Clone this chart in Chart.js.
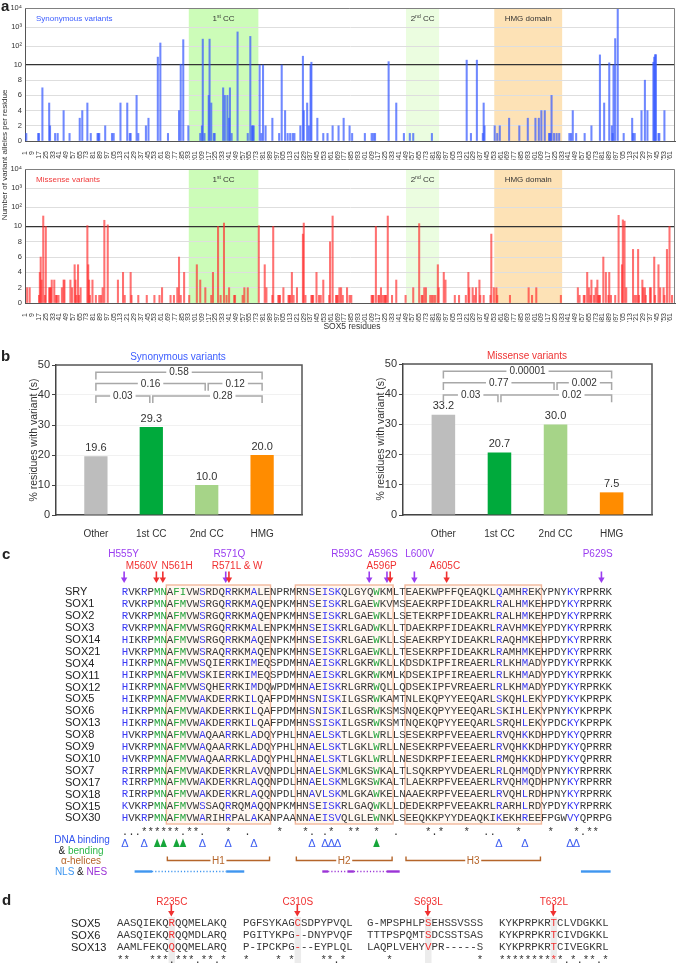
<!DOCTYPE html>
<html><head><meta charset="utf-8">
<script src="https://cdn.jsdelivr.net/npm/chart.js@4.4.1/dist/chart.umd.min.js"></script>
<style>
html,body{margin:0;padding:0;background:#fff;}
body{width:685px;height:966px;position:relative;overflow:hidden;font-family:"Liberation Sans",Arial,Helvetica,sans-serif;color:#222;}
canvas{position:absolute;}
.t{position:absolute;white-space:pre;line-height:1;}
.m{font-family:"Liberation Mono","Courier New",monospace;}
svg{position:absolute;left:0;top:0;}
</style></head><body>
<canvas id="synChart" width="685" height="160" style="left:0;top:0"></canvas>
<canvas id="misChart" width="685" height="162" style="left:0;top:160px"></canvas>
<canvas id="synPct" width="340" height="205" style="left:0;top:340px"></canvas>
<canvas id="misPct" width="345" height="205" style="left:340px;top:340px"></canvas>
<script>
// ---------------- DATA ----------------
const residueCount = 766;
const synonymousAlleles = [[2,1],[16,1],[17,1],[21,7],[29,5],[30,2],[36,1],[39,1],[46,4],[53,1],[65,3],[68,4],[74,5],[78,1],[86,1],[87,1],[88,1],[95,2],[103,1],[105,1],[113,5],[121,5],[124,1],[125,1],[132,6],[134,1],[143,2],[146,3],[157,26],[160,144],[169,1],[182,4],[184,11],[187,215],[193,2],[207,1],[209,2],[210,230],[212,1],[217,6],[218,230],[220,5],[223,1],[224,1],[234,7],[236,6],[239,6],[241,3],[242,7],[244,1],[251,550],[263,1],[266,320],[268,2],[269,2],[270,2],[277,10],[279,1],[281,10],[284,2],[292,3],[300,1],[303,10],[307,4],[310,1],[313,1],[316,1],[318,1],[325,2],[328,29],[329,4],[333,5],[335,2],[337,10],[338,14],[345,3],[352,1],[357,1],[363,2],[370,2],[376,3],[383,2],[386,1],[401,1],[409,1],[411,1],[413,1],[429,15],[438,5],[447,1],[454,1],[458,1],[480,1],[521,18],[526,1],[533,18],[540,1],[541,5],[542,2],[554,2],[557,1],[560,2],[571,3],[583,2],[593,3],[602,3],[606,3],[609,4],[613,4],[618,1],[619,1],[620,1],[621,6],[624,1],[627,1],[630,1],[642,1],[644,1],[646,4],[650,1],[660,1],[668,2],[678,34],[683,5],[689,13],[692,2],[693,1],[694,10],[696,245],[699,9500],[706,1],[716,3],[717,1],[719,1],[727,4],[731,8],[734,4],[741,14],[742,26],[743,35],[744,35],[747,1],[748,1],[754,4]];
const missenseAlleles = [[3,2],[6,2],[17,1],[18,4],[19,6],[20,3],[22,35],[24,1],[25,10],[29,2],[30,2],[31,2],[32,3],[35,3],[37,1],[38,1],[40,1],[44,2],[46,3],[47,3],[54,3],[56,2],[59,5],[60,3],[61,1],[63,5],[64,1],[66,2],[74,11],[75,5],[76,3],[77,1],[80,3],[84,1],[88,1],[90,1],[92,2],[94,21],[98,12],[110,3],[116,4],[118,1],[125,4],[126,1],[134,1],[144,1],[153,1],[159,1],[162,2],[172,1],[176,1],[180,2],[182,6],[184,1],[188,4],[194,1],[203,5],[207,3],[213,2],[220,1],[222,4],[228,10],[231,1],[235,15],[238,1],[241,2],[247,1],[248,1],[257,1],[259,2],[263,2],[276,11],[283,5],[285,2],[292,1],[293,10],[299,1],[300,1],[301,1],[305,2],[311,1],[312,1],[313,1],[315,4],[317,1],[321,2],[328,9],[329,15],[331,1],[338,1],[339,1],[340,1],[344,4],[347,1],[349,1],[352,3],[359,1],[360,8],[363,35],[367,1],[368,1],[369,1],[371,2],[373,2],[375,1],[380,2],[383,1],[385,1],[409,1],[410,1],[411,1],[414,10],[417,1],[418,1],[420,2],[422,1],[424,1],[425,1],[426,1],[428,35],[433,1],[438,3],[449,1],[458,2],[465,14],[468,1],[469,1],[471,2],[473,2],[478,1],[480,1],[482,1],[484,1],[487,5],[488,2],[494,4],[496,3],[507,1],[512,1],[520,1],[523,4],[524,2],[528,2],[530,1],[532,2],[536,3],[537,1],[541,1],[549,1],[550,9],[553,2],[556,2],[557,1],[572,1],[594,2],[598,1],[603,2],[632,1],[652,2],[654,1],[659,1],[660,1],[663,4],[665,2],[667,1],[668,3],[671,1],[673,2],[675,3],[676,1],[677,1],[678,1],[682,6],[685,4],[688,1],[689,4],[691,1],[696,1],[700,38],[704,5],[705,22],[707,19],[709,2],[717,7],[719,1],[721,1],[723,7],[724,1],[728,3],[729,2],[731,2],[732,1],[737,2],[738,2],[742,6],[743,1],[747,5],[749,2],[753,2],[754,1],[757,7],[760,10],[763,1]];
const domainNames = ['1st CC','2nd CC','HMG domain'];
const domainStart = [194,450,554];
const domainEnd = [275,488,633];
const yTickCounts = [0,2,4,6,8,10,100,1000,10000];
const yTickLabels = ['0','2','4','6','8','10','10²','10³','10⁴'];
const xTickEvery = 8;

const groupLabels = ['Other','1st CC','2nd CC','HMG'];
const synPercent = [19.6,29.3,10.0,20.0];
const misPercent = [33.2,20.7,30.0,7.5];
const bracketFrom = [1,1,3,1,2];
const bracketTo   = [4,3,4,2,4];
const bracketLevel= [0,1,1,2,2];
const synPvalues = ['0.58','0.16','0.12','0.03','0.28'];
const misPvalues = ['0.00001','0.77','0.002','0.03','0.02'];

const seqNames = ['SRY','SOX1','SOX2','SOX3','SOX14','SOX21','SOX4','SOX11','SOX12','SOX5','SOX6','SOX13','SOX8','SOX9','SOX10','SOX7','SOX17','SOX18','SOX15','SOX30'];
const seqRows = [
'RVKRPMNAFIVWSRDQRRKMALENPRMRNSEISKQLGYQWKMLTEAEKWPFFQEAQKLQAMHREKYPNYKYRPRRK',
'RVKRPMNAFMVWSRGQRRKMAQENPKMHNSEISKRLGAEWKVMSEAEKRPFIDEAKRLRALHMKEHPDYKYRPRRK',
'RVKRPMNAFMVWSRGQRRKMAQENPKMHNSEISKRLGAEWKLLSETEKRPFIDEAKRLRALHMKEHPDYKYRPRRK',
'RVKRPMNAFMVWSRGQRRKMALENPKMHNSEISKRLGADWKLLTDAEKRPFIDEAKRLRAVHMKEYPDYKYRPRRK',
'HIKRPMNAFMVWSRGQRRKMAQENPKMHNSEISKRLGAEWKLLSEAEKRPYIDEAKRLRAQHMKEHPDYKYRPRRK',
'HVKRPMNAFMVWSRAQRRKMAQENPKMHNSEISKRLGAEWKLLTESEKRPFIDEAKRLRAMHMKEHPDYKYRPRRK',
'HIKRPMNAFMVWSQIERRKIMEQSPDMHNAEISKRLGKRWKLLKDSDKIPFIREAERLRLKHMADYPDYKYRPRKK',
'HIKRPMNAFMVWSKIERRKIMEQSPDMHNAEISKRLGKRWKMLKDSEKIPFIREAERLRLKHMADYPDYKYRPRKK',
'HIKRPMNAFMVWSQHERRKIMDQWPDMHNAEISKRLGRRWQLLQDSEKIPFVREAERLRLKHMADYPDYKYRPRKK',
'HIKRPMNAFMVWAKDERRKILQAFPDMHNSNISKILGSRWKAMTNLEKQPYYEEQARLSKQHLEKYPDYKYKPRPK',
'HIKRPMNAFMVWAKDERRKILQAFPDMHNSNISKILGSRWKSMSNQEKQPYYEEQARLSKIHLEKYPNYKYKPRPK',
'HIKRPMNAFMVWAKDERRKILQAFPDMHNSSISKILGSRWKSMTNQEKQPYYEEQARLSRQHLEKYPDCKYKPRPK',
'HVKRPMNAFMVWAQAARRKLADQYPHLHNAELSKTLGKLWRLLSESEKRPFVEEAERLRVQHKKDHPDYKYQPRRR',
'HVKRPMNAFMVWAQAARRKLADQYPHLHNAELSKTLGKLWRLLNESEKRPFVEEAERLRVQHKKDHPDYKYQPRRR',
'HVKRPMNAFMVWAQAARRKLADQYPHLHNAELSKTLGKLWRLLNESDKRPFIEEAERLRMQHKKDHPDYKYQPRRR',
'RIRRPMNAFMVWAKDERKRLAVQNPDLHNAELSKMLGKSWKALTLSQKRPYVDEAERLRLQHMQDYPNYKYRPRRK',
'RIRRPMNAFMVWAKDERKRLAQQNPDLHNAELSKMLGKSWKALTLAEKRPFVEEAERLRVQHMQDHPNYKYRPRRR',
'RIRRPMNAFMVWAKDERKRLAQQNPDLHNAVLSKMLGKAWKELNAAEKRPFVEEAERLRVQHLRDHPNYKYRPRRK',
'KVKRPMNAFMVWSSAQRRQMAQQNPKMHNSEISKRLGAQWKLLDEDEKRPFVEEAKRLRARHLRDYPDYKYRPRRK',
'HVKRPMNAFMVWARIHRPALAKANPAANNAEISVQLGLEWNKLSEEQKKPYYDEAQKIKEKHREEFPGWVYQPRPG'];
const seqConservation = '...******.**.   *  .    *   *. .*  **  *  .    *.*   *  ..   *    *   *.**  ';
const dnaBindingCols = [0,3,12,16,20,29,31,32,33,58,62,69,70];
const bendingCols = [5,6,8,9,39];
const helixNames = ['H1','H2','H3'];
const helixStartCol = [7,27,44];
const helixEndCol = [22,41,64];
const mutNames = ['H555Y','R571Q','R593C','A596S','L600V','P629S','M560V','N561H','R571L & W','A596P','A605C'];
const mutCol   = [0,16,38,41,45,74,5,6,16,41,50];
const mutType  = ['syn','syn','syn','syn','syn','syn','mis','mis','mis','mis','mis'];

const dBlocks = [
 ['AASQIEKQRQQMELAKQ','AASQIEKQRQQMDLARQ','AAMLFEKQQQQMELARQ'],
 ['PGFSYKAGCSDPYPVQL','PGITYKPG--DNYPVQF','P-IPCKPG---EYPLQL'],
 ['G-MPSPHLPSEHSSVSSS','TTTPSPQMTSDCSSTSAS','LAQPLVEHYVPR-----S'],
 ['KYKPRPKRTCLVDGKKL','KYKPRPKRTCIVDGKKL','KYKPRPKRTCIVEGKRL']];
const dConservation = ['**   ***.***.**.*','*    * *    **.* ','   *             *','**********.*.**.*'];
const dNames = ['SOX5','SOX6','SOX13'];
const dMutNames = ['R235C','C310S','S693L','T632L'];
const dMutCol = [8,8,9,8];

// ---------------- STYLE / LAYOUT ----------------
const BLUE='#3a3af5', GREEN='#22a33a', RED='#f03030', PURPLE='#9a3cf0', BROWN='#b5652a', NLSC='#3f96f0', NESC='#9b34d6';
const domainColors = ['#ccfcb8','#ebfde0','#fde2b6'];
const toAxis = v => v <= 10 ? v : 10 + 2.5*Math.log10(v/10);
Chart.defaults.font.family = '"Liberation Sans", Arial, sans-serif';
Chart.defaults.color = '#333';

function drawSupLabel(ctx, text, cx, cy){
  const m = text.match(/^(\d+)(st|nd|rd|th) (.*)$/);
  ctx.fillStyle='#333'; ctx.textBaseline='middle';
  if(!m){ ctx.font='8px "Liberation Sans", Arial'; ctx.textAlign='center'; ctx.fillText(text,cx,cy); return; }
  ctx.textAlign='left';
  ctx.font='8px "Liberation Sans", Arial'; const w1=ctx.measureText(m[1]).width, w3=ctx.measureText(' '+m[3]).width;
  ctx.font='5px "Liberation Sans", Arial'; const w2=ctx.measureText(m[2]).width;
  let x=cx-(w1+w2+w3)/2;
  ctx.font='8px "Liberation Sans", Arial'; ctx.fillText(m[1],x,cy); x+=w1;
  ctx.font='5px "Liberation Sans", Arial'; ctx.fillText(m[2],x,cy-2.5); x+=w2;
  ctx.font='8px "Liberation Sans", Arial'; ctx.fillText(' '+m[3],x,cy);
}

const domainPlugin = {
  id:'domains',
  beforeDraw(chart, args, opts){
    const {ctx, chartArea:a, scales:{x}} = chart;
    const slot = x.getPixelForValue(1)-x.getPixelForValue(0);
    ctx.save();
    domainStart.forEach((s,i)=>{
      const l = x.getPixelForValue(s-1)-slot/2, r = x.getPixelForValue(domainEnd[i]-1)+slot/2;
      ctx.fillStyle = domainColors[i]; ctx.fillRect(l,a.top,r-l,a.bottom-a.top);
      drawSupLabel(ctx, domainNames[i], (l+r)/2, a.top+11);
    });
    ctx.font='8px "Liberation Sans", Arial'; ctx.fillStyle=opts.color; ctx.textAlign='left'; ctx.textBaseline='middle';
    ctx.fillText(opts.title, a.left+11, a.top+10.5);
    ctx.restore();
  },
  afterDraw(chart){
    const {ctx, chartArea:a} = chart;
    ctx.save(); ctx.strokeStyle='#808080'; ctx.lineWidth=1;
    ctx.beginPath(); ctx.moveTo(a.left,a.top+0.5); ctx.lineTo(a.right-0.5,a.top+0.5); ctx.lineTo(a.right-0.5,a.bottom); ctx.stroke();
    ctx.restore();
  }
};

function makeVariantChart(id, alleles, color, title, titleColor, topPad){
  const labels=[]; for(let r=1;r<=residueCount;r++) labels.push(String(r));
  const values=new Array(residueCount).fill(null);
  alleles.forEach(([r,c])=>{ values[r-1]=toAxis(c); });
  const tickPos = yTickCounts.map(toAxis);
  new Chart(document.getElementById(id), {
    type:'bar',
    data:{labels, datasets:[{data:values, backgroundColor:color, barThickness:1.4}]},
    options:{
      animation:false, responsive:false, devicePixelRatio:1,
      layout:{padding:{top:topPad,right:3,left:0,bottom:0}},
      plugins:{legend:{display:false}, tooltip:{enabled:false}, domains:{title, color:titleColor}},
      scales:{
        x:{type:'category', offset:true, grid:{display:false}, border:{color:'#555'},
           ticks:{autoSkip:false, minRotation:90, maxRotation:90, padding:2, font:{size:7}, color:'#333',
             callback:function(v,i){ return (i%xTickEvery===0)? this.getLabelForValue(v) : ''; }},
           afterFit:s=>{s.height=19;}},
        y:{min:0, max:17.5,
           afterBuildTicks:s=>{s.ticks=tickPos.map(v=>({value:v}));},
           ticks:{callback:(v,i)=>yTickLabels[i], font:{size:7.5}, color:'#333', padding:3},
           grid:{drawTicks:false, color:c=>(c.tick&&c.tick.value===10)?'#333':'#dedede', lineWidth:c=>(c.tick&&c.tick.value===10)?1.2:1},
           border:{color:'#555'},
           afterFit:s=>{s.width=25;}}
      }
    },
    plugins:[domainPlugin]
  });
}
makeVariantChart('synChart', synonymousAlleles, 'rgba(55,90,255,0.72)', 'Synonymous variants', '#3b5cff', 8);
makeVariantChart('misChart', missenseAlleles, 'rgba(255,45,45,0.68)', 'Missense variants', '#f03a3a', 9);

// ----- panel b -----
const pctPlugin = {
  id:'pct',
  afterDatasetsDraw(chart, args, opts){
    const {ctx, scales:{x,y}} = chart;
    ctx.save();
    const meta = chart.getDatasetMeta(0);
    ctx.font='11px "Liberation Sans", Arial'; ctx.fillStyle='#333'; ctx.textAlign='center'; ctx.textBaseline='bottom';
    meta.data.forEach((el,i)=>{ ctx.fillText(opts.values[i].toFixed(1), el.x, el.y-3); });
    const levelY=[47.6,43.8,39.7], leg=2.4;
    ctx.strokeStyle='#a8a8a8'; ctx.lineWidth=1.5;
    bracketFrom.forEach((f,i)=>{
      const t=bracketTo[i], lv=bracketLevel[i];
      const shared = (k)=> bracketFrom.some((ff,j)=>j!==i && bracketLevel[j]===lv && (bracketTo[j]===k||ff===k));
      let x1=x.getPixelForValue(f), x2=x.getPixelForValue(t);
      if(shared(f)) x1+=1.5; if(shared(t)) x2-=1.5;
      const yy=y.getPixelForValue(levelY[lv]), yb=y.getPixelForValue(levelY[lv]-leg);
      ctx.beginPath(); ctx.moveTo(x1,yb); ctx.lineTo(x1,yy); ctx.lineTo(x2,yy); ctx.lineTo(x2,yb); ctx.stroke();
      const frac = (t-f===2 && f===2)?0.64:0.5;
      const lx = x1+(x2-x1)*frac;
      ctx.font='10px "Liberation Sans", Arial';
      const w=ctx.measureText(opts.pvals[i]).width+6;
      ctx.fillStyle='#fff'; ctx.fillRect(lx-w/2,yy-3,w,6);
      ctx.fillStyle='#333'; ctx.textBaseline='middle'; ctx.fillText(opts.pvals[i],lx,yy+0.5);
    });
    ctx.restore();
  },
  afterDraw(chart){
    const {ctx, chartArea:a} = chart;
    ctx.save(); ctx.strokeStyle='#555'; ctx.lineWidth=1.5;
    ctx.beginPath(); ctx.moveTo(a.left,a.top); ctx.lineTo(a.right,a.top); ctx.lineTo(a.right,a.bottom); ctx.stroke();
    ctx.restore();
  }
};
function makePctChart(id, values, pvals, pad, yWidth){
  new Chart(document.getElementById(id), {
    type:'bar',
    data:{datasets:[{data:values.map((v,i)=>({x:i+1,y:v})), backgroundColor:['#bdbdbd','#00aa3c','#a6d488','#ff8c00'], barPercentage:0.42, categoryPercentage:1}]},
    options:{
      animation:false, responsive:false, devicePixelRatio:1,
      layout:{padding:pad},
      plugins:{legend:{display:false}, tooltip:{enabled:false}, pct:{values, pvals}},
      scales:{
        x:{type:'linear', offset:false, min:0.28, max:4.72, afterBuildTicks:s=>{s.ticks=[1,2,3,4].map(v=>({value:v}));},
           ticks:{callback:v=>groupLabels[v-1], font:{size:10}, color:'#333', padding:5},
           grid:{display:false}, border:{color:'#444', width:1.5}, afterFit:s=>{s.height=30;}},
        y:{min:0, max:50, ticks:{stepSize:10, font:{size:11}, color:'#333', padding:2},
           grid:{color:'#f1f1f1', tickColor:'#444', tickLength:4}, border:{color:'#444', width:1.5},
           afterFit:s=>{s.width=yWidth;}}
      }
    },
    plugins:[pctPlugin]
  });
}
makePctChart('synPct', synPercent, synPvalues, {top:25,right:38,left:0,bottom:0}, 56);
makePctChart('misPct', misPercent, misPvalues, {top:24,right:33,left:0,bottom:0}, 63);

// ---------------- HTML TEXT / SVG ----------------
const NS='http://www.w3.org/2000/svg';
const svg=document.createElementNS(NS,'svg'); svg.setAttribute('width',685); svg.setAttribute('height',966);
document.body.appendChild(svg);
function S(tag, at){ const e=document.createElementNS(NS,tag); for(const k in at) e.setAttribute(k,at[k]); svg.appendChild(e); return e; }
function T(html, x, yc, o={}){
  const d=document.createElement('div'); d.className='t'+(o.mono?' m':'');
  d.innerHTML=html; const sz=o.size||10;
  d.style.fontSize=sz+'px'; d.style.color=o.color||'#222';
  if(o.bold) d.style.fontWeight='bold';
  d.style.left=x+'px';
  if(o.rot){ d.style.top=yc+'px'; d.style.transform='translate(-50%,-50%) rotate(-90deg)'; }
  else { d.style.top=(yc-(o.mono?0.44:0.5)*sz)+'px';
    if(o.align==='center') d.style.transform='translateX(-50%)';
    if(o.align==='right') d.style.transform='translateX(-100%)'; }
  document.body.appendChild(d); return d;
}
function arrow(x,y1,y2,c){
  S('line',{x1:x,y1:y1,x2:x,y2:y2-4,stroke:c,'stroke-width':1.6});
  S('polygon',{points:`${x-3.2},${y2-5.5} ${x+3.2},${y2-5.5} ${x},${y2}`,fill:c});
}

// panel letters & a/b titles
T('a',1,5,{size:15,bold:true});
T('b',1,355,{size:15,bold:true});
T('c',2,553,{size:15,bold:true});
T('d',2,899,{size:15,bold:true});
T('Number of variant alleles per residue',5,155,{size:8,rot:true,color:'#333'});
T('SOX5 residues',352,326,{size:8.5,align:'center',color:'#333'});
T('Synonymous variants',178,357,{size:10,align:'center',color:'#3b5cff'});
T('Missense variants',527,356,{size:10,align:'center',color:'#ee3333'});
T('% residues with variant (s)',33,440,{size:10.5,rot:true,color:'#333'});
T('% residues with variant (s)',380,439,{size:10.5,rot:true,color:'#333'});

// ----- panel c -----
const x0=121.7, cw=6.45, y0=591.8, rh=11.9;
const colL=c=>x0+c*cw, colC=c=>x0+(c+0.5)*cw;
const boxTop=585, boxBot=824;
helixStartCol.forEach((s,i)=>{
  S('rect',{x:colL(s)-0.5,y:boxTop,width:colL(helixEndCol[i]+1)-colL(s)+1,height:boxBot-boxTop,fill:'#fff7f0',stroke:'#f2b89c','stroke-width':1.4});
});
function seqHTML(seq, blue, green, redCols, redColor){
  return seq.split('').map((ch,i)=>{
    if(redCols && redCols.includes(i)) return `<span style="color:${redColor}">${ch}</span>`;
    if(blue && blue.includes(i)) return `<span style="color:${BLUE}">${ch}</span>`;
    if(green && green.includes(i)) return `<span style="color:${GREEN}">${ch}</span>`;
    return ch;
  }).join('');
}
seqNames.forEach((n,i)=>{
  const yc=y0+i*rh;
  T(n,65,yc,{size:11,color:'#222'});
  T(seqHTML(seqRows[i],dnaBindingCols,bendingCols),x0,yc,{mono:true,size:10.75,color:'#3a3a3a'});
});
T(seqConservation,x0,y0+20*rh+1.5,{mono:true,size:10.75,color:'#333'});
// mutations
const labelShift=[-0.2,0.2,-3.6,-1,0.7,-0.7,-2.4,2.1,1.4,-1.2,-0.4];
mutNames.forEach((n,i)=>{
  const c = mutType[i]==='syn'?PURPLE:RED;
  const yc = mutType[i]==='syn'?554:565.5;
  T(n,colC(mutCol[i]+labelShift[i]),yc,{size:10,align:'center',color:c});
});
mutNames.forEach((n,i)=>{
  const c = mutType[i]==='syn'?PURPLE:RED;
  const dup = mutCol.filter(v=>v===mutCol[i]).length>1;
  const off = dup ? (mutType[i]==='syn'?-1.6:1.6) : 0;
  arrow(colC(mutCol[i])+off-0.8,571.5,583,c);
});
// legend + tracks
T('DNA binding',82,840,{size:10,align:'center',color:'#3355ee'});
T('&amp; <span style="color:#2eb84a">bending</span>',81,850.5,{size:10,align:'center',color:'#222'});
T('α-helices',81,861,{size:10,align:'center',color:BROWN});
T('<span style="color:'+NLSC+'">NLS</span> &amp; <span style="color:'+NESC+'">NES</span>',81,871.5,{size:10,align:'center',color:'#222'});
dnaBindingCols.forEach(c=>T('Δ',colC(c),843,{size:11,align:'center',color:'#4060f0'}));
bendingCols.forEach(c=>{ const x=colC(c); S('polygon',{points:`${x-3.3},${847} ${x+3.3},${847} ${x},${838.5}`,fill:'#16a63a'}); });
helixNames.forEach((h,i)=>{
  const l=colL(helixStartCol[i])+0.5, r=colL(helixEndCol[i]+1)-0.5, m=(l+r)/2, yb=860.5;
  S('path',{d:`M${l},${yb-4} L${l},${yb} L${m-8},${yb} M${m+8},${yb} L${r},${yb} L${r},${yb-4}`,stroke:BROWN,'stroke-width':1.4,fill:'none'});
  T(h,m,yb,{size:10,align:'center',color:BROWN});
});
function seg(u1,u2,y,c,dotted){
  S('line',{x1:colL(u1),y1:y,x2:colL(u2),y2:y,stroke:c,'stroke-width':dotted?1.6:2.4,'stroke-dasharray':dotted?'1.2 2':'none'});
}
const ly=871.5;
seg(2.0,4.7,ly,NLSC,false); seg(4.7,16.2,ly,NLSC,true); seg(16.2,19.0,ly,NLSC,false);
seg(31.1,32.0,ly,NESC,false); seg(32.0,35.0,ly,NESC,true); seg(35.0,36.0,ly,NESC,false); seg(36.0,41.1,ly,NESC,true); seg(41.1,43.1,ly,NESC,false);
seg(71.2,75.8,ly,NLSC,false);

// ----- panel d -----
const dLeft=[117,243,367,499], dY=[923,935,947.2], dConsY=958.5;
dBlocks.forEach((blk,b)=>{
  const xc=dLeft[b]+(dMutCol[b]+0.5)*cw;
  S('rect',{x:xc-cw/2,y:917,width:cw,height:46,fill:'#ececec'});
});
dNames.forEach((n,i)=>T(n,71,dY[i],{size:11,color:'#222'}));
dBlocks.forEach((blk,b)=>{
  const xc=dLeft[b]+(dMutCol[b]+0.5)*cw;
  T(dMutNames[b],xc,901.5,{size:10,align:'center',color:RED});
  arrow(xc-0.5,905,916.5,RED);
  blk.forEach((s,i)=>T(seqHTML(s,null,null,[dMutCol[b]],RED),dLeft[b],dY[i],{mono:true,size:10.75,color:'#3a3a3a'}));
  const cons = b===3 ? seqHTML(dConservation[b],null,null,[dMutCol[b]],RED) : dConservation[b];
  T(cons,dLeft[b],dConsY+1.5,{mono:true,size:10.75,color:'#333'});
});
</script>
</body></html>
